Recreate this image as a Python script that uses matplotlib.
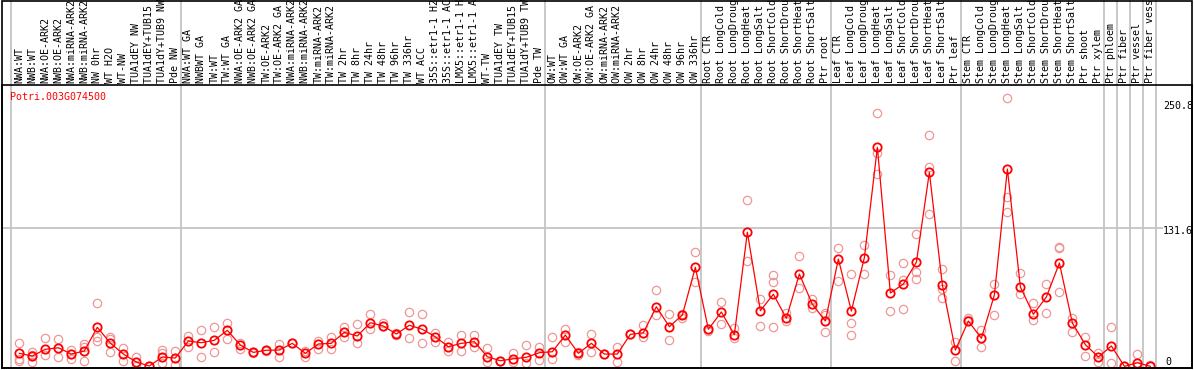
import matplotlib
matplotlib.use('Agg')
import matplotlib.pyplot as plt
from matplotlib.transforms import blended_transform_factory
from matplotlib.patches import Rectangle

# sample labels, one per column
labels = [
    'NWA:WT', 'NWB:WT', 'NWA:OE-ARK2', 'NWB:OE-ARK2', 'NWA:miRNA-ARK2', 'NWB:miRNA-ARK2',
    'NW 0hr', 'WT H2O', 'WT-NW', 'TUA1dEY NW', 'TUA1dEY+TUB15 NW', 'TUA1dY+TUB9 NW', 'Pde NW',
    'NWA:WT GA', 'NWBWT GA', 'TW:WT', 'TW:WT GA', 'NWA:OE-ARK2 GA', 'NWB:OE-ARK2 GA',
    'TW:OE-ARK2', 'TW:OE-ARK2 GA', 'NWA:miRNA-ARK2 GA', 'NWB:miRNA-ARK2 GA', 'TW:miRNA-ARK2',
    'TW:miRNA-ARK2 GA', 'TW 2hr', 'TW 8hr', 'TW 24hr', 'TW 48hr', 'TW 96hr', 'TW 336hr', 'WT ACC',
    '35S::etr1-1 H2O', '35S::etr1-1 ACC', 'LMX5::etr1-1 H2O', 'LMX5::etr1-1 ACC', 'WT-TW',
    'TUA1dEY TW', 'TUA1dEY+TUB15 TW', 'TUA1dY+TUB9 TW', 'Pde TW',
    'OW:WT', 'OW:WT GA', 'OW:OE-ARK2', 'OW:OE-ARK2 GA', 'OW:miRNA-ARK2', 'OW:miRNA-ARK2 GA',
    'OW 2hr', 'OW 8hr', 'OW 24hr', 'OW 48hr', 'OW 96hr', 'OW 336hr',
    'Root CTR', 'Root LongCold', 'Root LongDrought', 'Root LongHeat', 'Root LongSalt',
    'Root ShortCold', 'Root ShortDrought', 'Root ShortHeat', 'Root ShortSalt', 'Ptr root',
    'Leaf CTR', 'Leaf LongCold', 'Leaf LongDrought', 'Leaf LongHeat', 'Leaf LongSalt',
    'Leaf ShortCold', 'Leaf ShortDrought', 'Leaf ShortHeat', 'Leaf ShortSalt', 'Ptr leaf',
    'Stem CTR', 'Stem LongCold', 'Stem LongDrought', 'Stem LongHeat', 'Stem LongSalt',
    'Stem ShortCold', 'Stem ShortDrought', 'Stem ShortHeat', 'Stem ShortSalt', 'Ptr shoot',
    'Ptr xylem', 'Ptr phloem', 'Ptr fiber', 'Ptr vessel', 'Ptr fiber vessel',
]

# mean expression per column
means = [
    12.4, 9.8, 16.2, 17.7, 11.7, 14.6, 37.2, 22.2, 11.7, 4.1, 0.3, 8.9, 7.9,
    24.1, 22.5, 24.8, 34.3, 20.3, 13.3, 15.3, 15.5, 21.9, 12.4, 21.3, 21.9, 32.4, 28.9,
    41.6, 38.4, 30.8, 39.1, 35.3, 28.2, 18.7, 21.9, 23.5, 9.2, 5.3, 7.2, 8.6, 13.0,
    13.9, 29.8, 12.4, 21.9, 11.7, 11.7, 30.5, 32.0, 56.8, 37.8, 48.9, 94.4,
    35.3, 51.8, 30.1, 127.8, 53.0, 68.7, 45.8, 88.0, 59.1, 43.2,
    102.3, 52.7, 103.6, 208.8, 69.9, 78.5, 99.2, 185.0, 77.5, 15.5,
    43.2, 26.7, 68.0, 188.1, 75.6, 49.6, 66.1, 98.5, 41.3, 20.6,
    8.9, 19.4, 0.0, 3.4, 0.0,
]

# replicate values per column
reps = [
    [21.9, 6.7, 5.1], [13.9, 4.4, 11.0], [26.7, 10.8], [26.0, 8.6], [15.5, 7.2, 12.0],
    [21.3, 18.7, 5.1], [60.1, 27.7, 24.4], [28.2, 26.0, 13.3], [17.7, 5.3], [9.2, 0.3],
    [0.0, 0.5], [15.5, 12.4, 2.9], [14.9, 1.2],
    [28.9, 18.1], [34.6, 9.2], [37.2, 13.6], [41.6, 26.3], [22.5, 16.8], [13.6, 12.7],
    [15.3, 15.0], [21.3, 8.6], [21.9, 22.0], [14.9, 9.2], [24.4, 16.2], [27.7, 16.2],
    [37.2, 27.7], [40.3, 22.5], [49.9, 35.3], [41.6, 38.4], [32.0, 29.6], [51.5, 26.7],
    [49.9, 21.9], [32.0, 23.5], [23.5, 14.9], [29.8, 14.6], [29.6, 18.1], [17.2, 4.4],
    [5.3, 5.0], [12.4, 4.4], [20.3, 2.9], [18.1, 6.0],
    [27.7, 6.7], [35.3, 23.5], [13.9, 10.8], [30.5, 13.9], [11.7, 11.5], [18.7, 4.4],
    [30.5, 31.0], [39.4, 27.7], [72.8, 48.9], [49.6, 25.1], [45.8, 50.0], [108.7, 80.1],
    [33.7, 36.0], [61.0, 40.1], [36.2, 26.7], [158.4, 100.7], [63.9, 38.4],
    [87.1, 80.7, 37.2], [50.5, 43.2], [105.2, 74.4], [63.9, 55.3], [50.5, 48.9, 32.4],
    [112.5, 81.3], [87.7, 41.0, 29.8], [115.7, 87.7], [241.3, 203.1, 183.1], [87.1, 52.7],
    [98.2, 82.3, 54.6], [125.9, 90.2, 83.0], [220.6, 190.3, 145.0], [92.8, 73.7, 64.8],
    [23.5, 5.1],
    [46.3, 44.1], [34.6, 18.1], [78.2, 48.9], [255.6, 161.2, 146.9], [88.7, 68.7],
    [60.1, 44.1], [78.2, 50.5], [114.0, 112.5, 70.6], [46.3, 32.4], [28.2, 9.8],
    [13.0, 4.4], [37.2, 2.9], [0.0, 0.0], [11.7, 0.0], [1.2, 0.0],
]

# group boundaries (index of last column in each group)
group_ends = [12, 40, 52, 62, 72, 83, 84, 85, 86, 87]
yticks = [250.8, 131.6, 0]
gene = 'Potri.003G074500'

W, H = 1194, 370
MONO = 'DejaVu Sans Mono'
FS = 7.2
GRID = '#c4c4c4'

fig = plt.figure(figsize=(W / 100, H / 100), dpi=100)
ax = fig.add_axes([2 / W, 2 / H, 1190 / W, 283 / H])
ax.set_xlim(-1.33, 90.2)
ax.set_ylim(-1.6, 268.2)
ax.set_xticks([])
ax.set_yticks([])
for s in ax.spines.values():
    s.set_linewidth(1.2)
    s.set_color('black')

# outer frame of the whole figure
fig.patches.append(Rectangle((2 / W, 2 / H), 1190 / W, 367.5 / H, fill=False,
                             ec='black', lw=1.2, transform=fig.transFigure))

top_ext = 1 + 85 / 283
for x in [-0.66] + [e + 0.42 for e in group_ends]:
    ax.axvline(x, ymin=0, ymax=top_ext, clip_on=False, color=GRID, lw=1.3, zorder=0)

ax.axhline(yticks[1], xmin=0, xmax=1160 / 1190, color=GRID, lw=1.3, zorder=0)

# column labels sit above the plot; long ones run off the top edge as in the source
trans = blended_transform_factory(ax.transData, ax.transAxes)
for i, lab in enumerate(labels):
    ax.text(i, 1 + 2 / 283, lab, transform=trans, rotation=90, ha='center', va='bottom',
            fontsize=FS, family=MONO, clip_on=False)

ax.text(-0.72, 1 - 12 / 283, gene, transform=trans, ha='left', va='center',
        fontsize=FS, family=MONO, color='red')

xlab = (1163 - 19.3) / 13
for v in yticks:
    dy = 3.3 if v == 0 else -2.2
    ax.annotate(str(v) if v else '0', (xlab, v), xytext=(1.5 if v == 0 else 0, dy),
                textcoords='offset points', ha='left', va='center',
                fontsize=FS, family=MONO, annotation_clip=False)

xs = list(range(len(means)))
for i, r in enumerate(reps):
    ax.plot([i] * len(r), r, 'o', mfc='none', mec='#f09696', ms=6.0, mew=0.9, zorder=2)
ax.plot(xs, means, '-', color='red', lw=0.9, zorder=3)
ax.plot(xs, means, 'o', mfc='none', mec='red', ms=6.0, mew=1.3, zorder=4)

fig.savefig('out.png', dpi=100)
